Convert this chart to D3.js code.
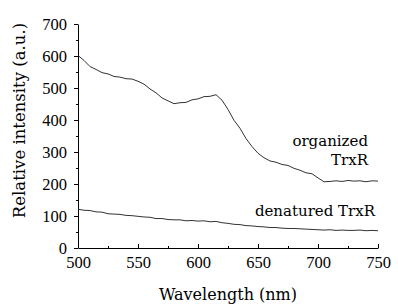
<!DOCTYPE html>
<html>
<head>
<meta charset="utf-8">
<script src="https://cdn.jsdelivr.net/npm/d3@7"></script>
<style>
  body { margin: 0; background: #fff; }
  svg text { fill: #000; }
</style>
</head>
<body>
<div id="my_graphic"></div>
<script>
// wavelengths, 5 nm steps
var wavelengths = d3.range(500, 751, 5);

// organized TrxR
var organized = [602, 586, 567, 558, 548, 544, 536, 534, 529, 528,
                 521, 512, 497, 485, 469, 460, 451, 454, 455, 463,
                 466, 473, 474, 479, 462, 433, 399, 374, 342, 317,
                 296, 282, 272, 268, 261, 258, 249, 243, 235, 232,
                 219, 207, 208, 210, 208, 211, 209, 210, 207, 210, 209];

// denatured TrxR
var denatured = [121, 118, 117, 113, 112, 107, 106, 105, 102, 101,
                 99, 97, 96, 92, 92, 89, 88, 88, 85, 86,
                 84, 85, 82, 83, 79, 77, 74, 73, 70, 69,
                 67, 66, 64, 64, 62, 61, 61, 60, 59, 58,
                 57, 56, 57, 55, 56, 55, 55, 56, 54, 55, 54];

var xTicks = [500, 550, 600, 650, 700, 750];
var xMinor = [525, 575, 625, 675, 725];
var yTicks = [0, 100, 200, 300, 400, 500, 600, 700];
var yMinor = [50, 150, 250, 350, 450, 550, 650];

draw_plot();

function draw_plot() {
    const margin = {top: 24, right: 20, bottom: 57, left: 78},
        width = 398 - margin.left - margin.right,
        height = 305 - margin.top - margin.bottom;

    const svg = d3.select("#my_graphic")
        .append("svg")
        .attr("width", 398)
        .attr("height", 305)
        .append("g")
        .attr("transform", `translate(${margin.left},${margin.top})`);

    const x = d3.scaleLinear().domain([500, 750]).range([0, width]);
    const y = d3.scaleLinear().domain([0, 700]).range([height, 0]);

    // X axis, ticks pointing inward
    svg.append("g")
        .attr("transform", `translate(0,${height})`)
        .call(d3.axisBottom(x).tickValues(xTicks).tickSizeInner(-4).tickSizeOuter(0).tickPadding(8.5))
        .call(g => g.selectAll("text")
            .style("font-family", "'Liberation Serif', serif")
            .style("font-size", "16.5px"));
    svg.append("g")
        .attr("transform", `translate(0,${height})`)
        .call(d3.axisBottom(x).tickValues(xMinor).tickSizeInner(-2).tickSizeOuter(0).tickFormat(""))
        .call(g => g.select(".domain").remove());

    // Y axis, ticks pointing outward
    svg.append("g")
        .call(d3.axisLeft(y).tickValues(yTicks).tickSizeInner(4).tickSizeOuter(0).tickPadding(7))
        .call(g => g.selectAll("text")
            .style("font-family", "'Liberation Serif', serif")
            .style("font-size", "16.5px"));
    svg.append("g")
        .call(d3.axisLeft(y).tickValues(yMinor).tickSizeInner(2).tickSizeOuter(0).tickFormat(""))
        .call(g => g.select(".domain").remove());

    svg.selectAll(".domain, .tick line").attr("stroke", "#000");

    // curves
    const line = d3.line()
        .x((d, i) => x(wavelengths[i]))
        .y(d => y(d));

    [organized, denatured].forEach(function(s) {
        svg.append("path")
            .datum(s)
            .attr("fill", "none")
            .attr("stroke", "#333")
            .attr("stroke-width", 1)
            .attr("d", line);
    });

    // labels
    const serif = "'DejaVu Serif', serif";
    svg.append("text")
        .attr("x", width / 2)
        .attr("y", 276)
        .attr("text-anchor", "middle")
        .style("font-family", serif)
        .style("font-size", "16px")
        .text("Wavelength (nm)");

    svg.append("text")
        .attr("transform", `translate(${25 - margin.left},${120.5 - margin.top}) rotate(-90)`)
        .attr("text-anchor", "middle")
        .style("font-family", serif)
        .style("font-size", "16.5px")
        .text("Relative intensity (a.u.)");

    const notes = [
        {t: "organized", x: 368, y: 146},
        {t: "TrxR", x: 368, y: 165},
        {t: "denatured TrxR", x: 375, y: 216}
    ];
    svg.selectAll(".note")
        .data(notes)
        .join("text")
        .attr("class", "note")
        .attr("x", d => d.x - margin.left)
        .attr("y", d => d.y - margin.top)
        .attr("text-anchor", "end")
        .style("font-family", serif)
        .style("font-size", "15px")
        .text(d => d.t);
}
</script>
</body>
</html>
